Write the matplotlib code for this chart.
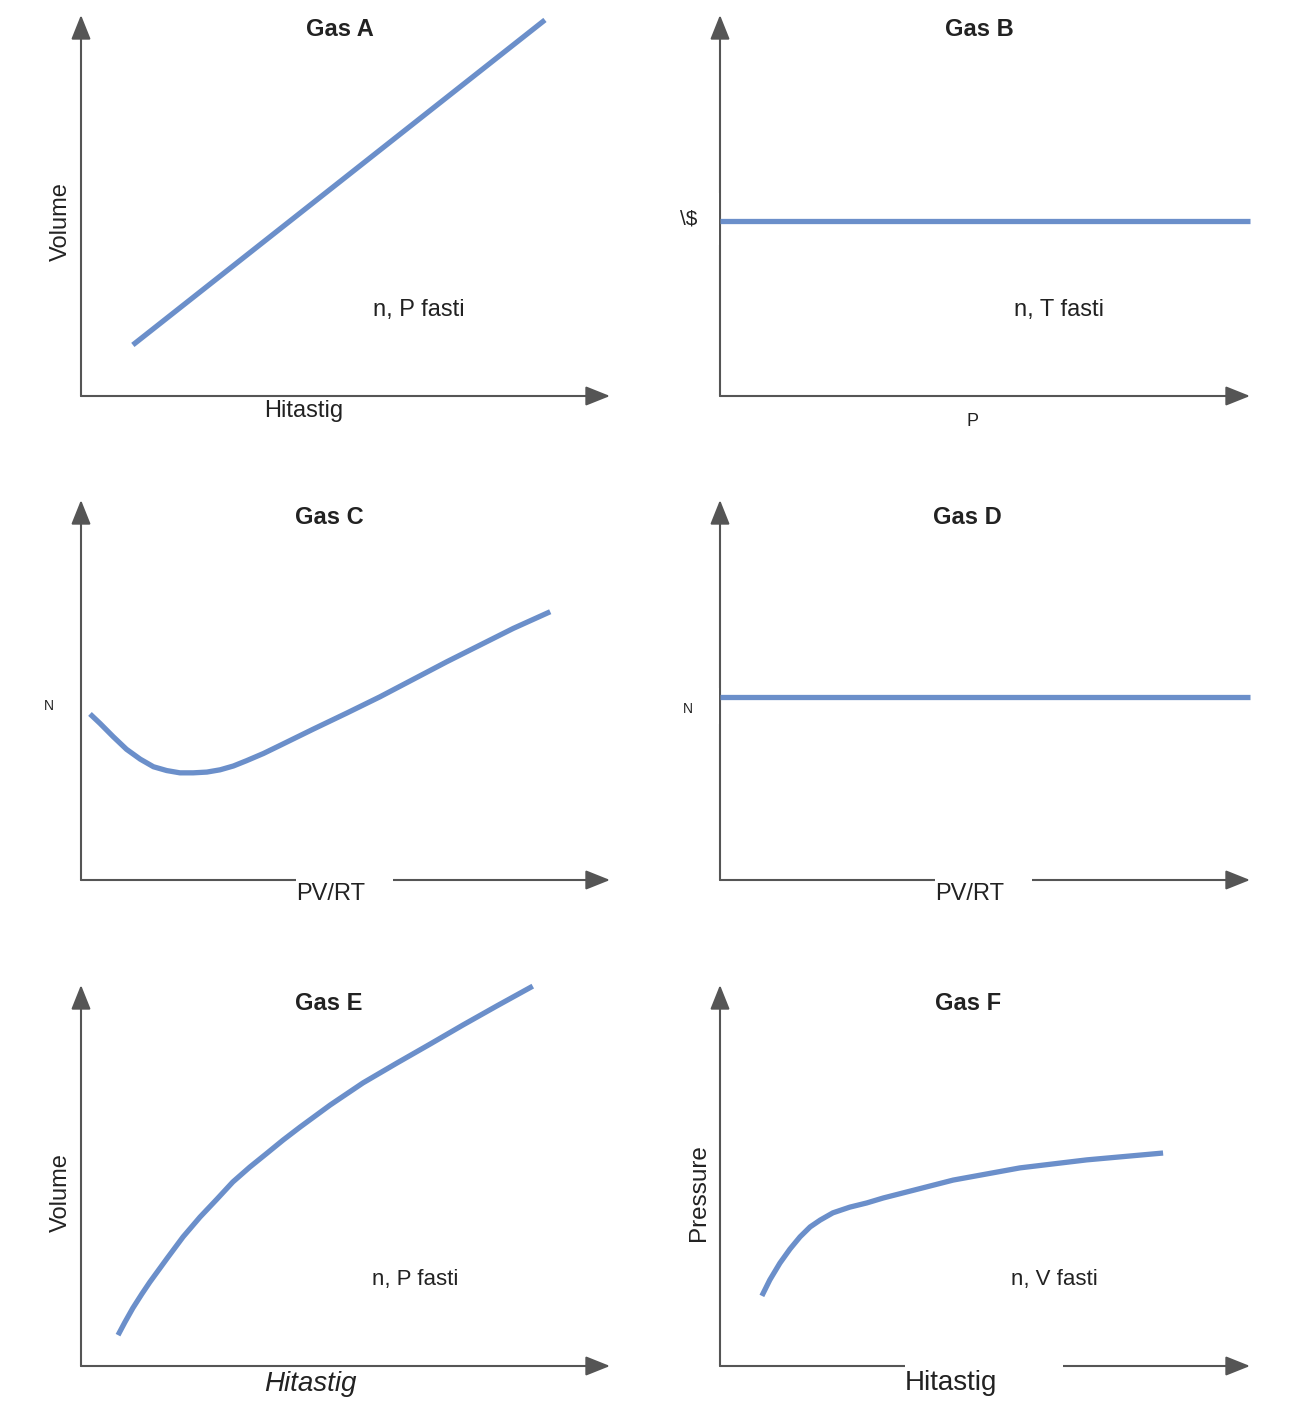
import matplotlib.pyplot as plt
from matplotlib.patches import Rectangle

plt.rcParams["font.family"] = ["Liberation Sans", "DejaVu Sans"]

W = 1301
H = 1414

LINE_COLOR = "#6b8fca"
AXIS_COLOR = "#555555"
TEXT_COLOR = "#222222"

#
# DATA (0-100 scale inside each panel)
#
gas_a_x = [9.8, 87.7]
gas_a_y = [13.4, 98.7]

gas_b_x = [0, 100]
gas_b_y = [45.9, 45.9]

gas_c_x = [1.7, 3.6, 6.1, 8.6, 11.2, 13.7, 16.2, 18.7, 21.2, 23.8, 26.3, 28.8,
           31.3, 34.5, 37.6, 43.9, 50.2, 56.5, 62.8, 69.1, 75.4, 81.7, 88.7]
gas_c_y = [43.7, 41.2, 37.7, 34.4, 31.8, 29.8, 28.8, 28.2, 28.2, 28.4, 29.0, 30.0,
           31.4, 33.3, 35.4, 39.7, 43.9, 48.2, 52.8, 57.4, 61.8, 66.2, 70.6]

gas_d_x = [0, 100]
gas_d_y = [48.2, 48.2]

gas_e_x = [7.0, 8.3, 9.8, 11.5, 13.0, 16.3, 19.3, 22.5, 25.7, 28.7, 31.9,
           35.2, 38.2, 41.4, 47.1, 53.3, 59.7, 66.0, 72.2, 78.6, 85.4]
gas_e_y = [8.1, 11.5, 15.2, 18.9, 22.0, 28.3, 33.9, 39.1, 43.8, 48.3, 52.2,
           55.9, 59.3, 62.7, 68.5, 74.3, 79.5, 84.5, 89.5, 94.5, 99.7]

gas_f_x = [7.9, 9.4, 11.3, 13.2, 15.1, 17.0, 18.9, 21.3, 24.5, 27.7, 30.8,
           35.3, 44.0, 56.6, 69.2, 83.6]
gas_f_y = [18.4, 22.6, 27.0, 30.7, 33.9, 36.5, 38.3, 40.2, 41.7, 42.8, 44.1,
           45.7, 48.8, 52.0, 54.1, 55.9]

titles = ["Gas A", "Gas B", "Gas C", "Gas D", "Gas E", "Gas F"]
notes = ["n, P fasti", "n, T fasti", "", "", "n, P fasti", "n, V fasti"]

series = [
    (gas_a_x, gas_a_y),
    (gas_b_x, gas_b_y),
    (gas_c_x, gas_c_y),
    (gas_d_x, gas_d_y),
    (gas_e_x, gas_e_y),
    (gas_f_x, gas_f_y)
]

# panel frames in pixels: x origin, y origin, width, height
col_x = [81, 720]
col_w = [529, 530]
row_y = [396, 880, 1366]
row_h = [381, 380, 381]


def fx(px):
    return px / W


def fy(py):
    return 1 - py / H


fig = plt.figure(
    figsize=(W / 100, H / 100),
    dpi=100
)

for i in range(6):

    r = i // 2
    c = i % 2

    ax = fig.add_axes([
        fx(col_x[c]),
        fy(row_y[r]),
        col_w[c] / W,
        row_h[r] / H
    ])

    ax.set_xlim(0, 100)
    ax.set_ylim(0, 100)
    ax.axis("off")

    for tip in [(100, 0), (0, 100)]:
        ax.annotate(
            "",
            xy=tip,
            xytext=(0, 0),
            arrowprops=dict(
                arrowstyle="-|>,head_length=0.75,head_width=0.3",
                mutation_scale=20,
                color=AXIS_COLOR,
                lw=1.5,
                shrinkA=0,
                shrinkB=0
            ),
            annotation_clip=False,
            zorder=2
        )

    xs, ys = series[i]

    ax.plot(
        xs,
        ys,
        color=LINE_COLOR,
        linewidth=3.8,
        solid_capstyle="butt",
        solid_joinstyle="round",
        clip_on=False,
        zorder=3
    )

#
# white label boxes that hide parts of the axes
#
boxes = [
    (296, 877, 97, 22),
    (935, 877, 97, 22),
    (905, 1362, 158, 26),
    (700, 193, 19, 52),
    (700, 688, 19, 36)
]

for bx, by, bw, bh in boxes:
    fig.patches.append(
        Rectangle(
            (fx(bx), fy(by + bh)),
            bw / W,
            bh / H,
            transform=fig.transFigure,
            facecolor="white",
            edgecolor="none",
            zorder=5
        )
    )

#
# TEXTS
#
title_pos = [(340, 29), (979, 29), (329, 517), (967, 517), (329, 1004), (968, 1004)]

for t, (px, py) in zip(titles, title_pos):
    fig.text(
        fx(px),
        fy(py),
        t,
        ha="center",
        va="center",
        fontsize=17,
        fontweight="bold",
        color=TEXT_COLOR,
        zorder=6
    )

note_pos = [(419, 310, 17), (1059, 310, 17), None, None, (415, 1279, 16), (1054, 1279, 16)]

for t, p in zip(notes, note_pos):
    if p is None:
        continue
    fig.text(
        fx(p[0]),
        fy(p[1]),
        t,
        ha="center",
        va="center",
        fontsize=p[2],
        color=TEXT_COLOR,
        zorder=6
    )

# y axis labels
fig.text(fx(61), fy(222), "Volume", rotation=90, ha="center", va="center",
         fontsize=17, color=TEXT_COLOR, zorder=6)
fig.text(fx(689), fy(219), "\\$", ha="center", va="center", parse_math=False,
         fontsize=15, color=TEXT_COLOR, zorder=6)
fig.text(fx(49), fy(706), "N", ha="center", va="center",
         fontsize=10, color=TEXT_COLOR, zorder=6)
fig.text(fx(688), fy(709), "N", ha="center", va="center",
         fontsize=10, color=TEXT_COLOR, zorder=6)
fig.text(fx(61), fy(1193), "Volume", rotation=90, ha="center", va="center",
         fontsize=17, color=TEXT_COLOR, zorder=6)
fig.text(fx(699), fy(1193), "Pressure", rotation=90, ha="center", va="center",
         fontsize=17.5, color=TEXT_COLOR, zorder=6)

# x axis labels
fig.text(fx(264), fy(411), "Hitastig", ha="left", va="center",
         fontsize=17, color=TEXT_COLOR, zorder=6)
fig.text(fx(973), fy(422), "P", ha="center", va="center",
         fontsize=13, color=TEXT_COLOR, zorder=6)
fig.text(fx(296), fy(894), "PV/RT", ha="left", va="center",
         fontsize=17, color=TEXT_COLOR, zorder=6)
fig.text(fx(935), fy(894), "PV/RT", ha="left", va="center",
         fontsize=17, color=TEXT_COLOR, zorder=6)
fig.text(fx(264), fy(1384), "Hitastig", ha="left", va="center",
         fontsize=20, fontstyle="italic", color=TEXT_COLOR, zorder=6)
fig.text(fx(905), fy(1383), "Hitastig", ha="left", va="center",
         fontsize=20, color=TEXT_COLOR, zorder=6)

plt.savefig(
    "out.png",
    dpi=100
)

plt.close()
